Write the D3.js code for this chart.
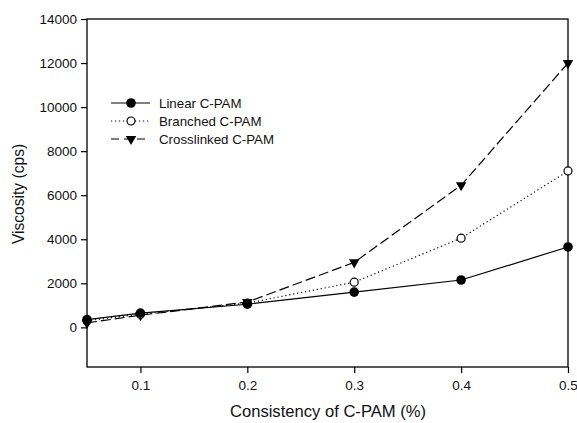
<!DOCTYPE html>
<html>
<head>
<meta charset="utf-8">
<script src="https://cdn.jsdelivr.net/npm/d3@7"></script>
<style>
  body { margin: 0; background: #fff; }
  svg { display: block; font-family: "Liberation Sans", Arial, sans-serif; }
</style>
</head>
<body>
<svg width="577" height="423"></svg>
<script>
// Data
const consistency = [0.05, 0.1, 0.2, 0.3, 0.4, 0.5];
const linearVals = [350, 650, 1050, 1600, 2150, 3650];
const branchedVals = [300, 600, 1100, 2050, 4050, 7100];
const crosslinkedVals = [200, 550, 1150, 2950, 6450, 12000];
const seriesNames = ["Linear C-PAM", "Branched C-PAM", "Crosslinked C-PAM"];
const xTicks = [0.1, 0.2, 0.3, 0.4, 0.5];
const yTicks = [0, 2000, 4000, 6000, 8000, 10000, 12000, 14000];

(function(){
    const margin = { top: 19, right: 9, bottom: 56, left: 87 },
        width = 577 - margin.left - margin.right,
        height = 423 - margin.top - margin.bottom;

    const svg = d3.select("svg")
        .append("g")
        .attr("transform", `translate(${margin.left},${margin.top})`);

    const x = d3.scaleLinear().domain([0.05, 0.5]).range([0, width]);
    const y = d3.scaleLinear().domain([-1800, 14000]).range([height, 0]);

    // frame
    svg.append("rect")
        .attr("width", width).attr("height", height)
        .attr("fill", "none").attr("stroke", "#000").attr("stroke-width", 1.3);

    // axes
    const xAxis = svg.append("g")
        .attr("transform", `translate(0,${height})`)
        .call(d3.axisBottom(x).tickValues(xTicks).tickFormat(d3.format(".1f")).tickSize(6).tickPadding(7));
    const yAxis = svg.append("g")
        .call(d3.axisLeft(y).tickValues(yTicks).tickFormat(d => d).tickSize(6).tickPadding(4));
    [xAxis, yAxis].forEach(a => {
        a.select(".domain").remove();
        a.selectAll("line").attr("stroke-width", 1.2);
        a.selectAll("text").attr("font-size", 13.5).attr("fill", "#111")
            .attr("font-family", "Liberation Sans, Arial, sans-serif");
    });

    const series = [
        { name: seriesNames[0], values: linearVals, dash: null, marker: "filled" },
        { name: seriesNames[1], values: branchedVals, dash: "1.2,2.8", marker: "open" },
        { name: seriesNames[2], values: crosslinkedVals, dash: "10,4", marker: "tri" }
    ];

    const line = d3.line()
        .x((d, i) => x(consistency[i]))
        .y(d => y(d));

    function drawMarker(g, type, cx, cy) {
        if (type === "filled") {
            g.append("circle").attr("cx", cx).attr("cy", cy).attr("r", 4.8).attr("fill", "#000");
        } else if (type === "open") {
            g.append("circle").attr("cx", cx).attr("cy", cy).attr("r", 4)
                .attr("fill", "#fff").attr("stroke", "#000").attr("stroke-width", 1.2);
        } else {
            g.append("path")
                .attr("d", d3.symbol().type(d3.symbolTriangle).size(48))
                .attr("transform", `translate(${cx},${cy}) rotate(180)`)
                .attr("fill", "#000");
        }
    }

    series.forEach(s => {
        svg.append("path")
            .datum(s.values)
            .attr("d", line)
            .attr("fill", "none")
            .attr("stroke", "#000")
            .attr("stroke-width", 1.2)
            .attr("stroke-dasharray", s.dash);
    });
    // markers drawn after lines, triangles first so circles sit on top
    [series[2], series[1], series[0]].forEach(s => {
        const g = svg.append("g");
        s.values.forEach((v, i) => drawMarker(g, s.marker, x(consistency[i]), y(v)));
    });

    // legend
    const legend = svg.append("g").attr("transform", "translate(24,84)");
    series.forEach((s, i) => {
        const row = legend.append("g").attr("transform", `translate(0,${i * 18})`);
        row.append("line")
            .attr("x1", 0).attr("x2", 39).attr("y1", 0).attr("y2", 0)
            .attr("stroke", "#000").attr("stroke-width", 1.2)
            .attr("stroke-dasharray", s.dash === "10,4" ? "8,5" : s.dash);
        drawMarker(row, s.marker, 20, 0);
        row.append("text")
            .attr("x", 48).attr("y", 0).attr("dy", "0.35em")
            .attr("font-size", 13.3).attr("fill", "#111")
            .text(s.name);
    });

    // axis titles
    svg.append("text")
        .attr("x", (232 + 424) / 2 - margin.left).attr("y", height + 50)
        .attr("text-anchor", "middle")
        .attr("font-size", 16.6).attr("fill", "#111")
        .text("Consistency of C-PAM (%)");
    svg.append("text")
        .attr("transform", `translate(${-63},${194 - margin.top}) rotate(-90)`)
        .attr("text-anchor", "middle")
        .attr("font-size", 15.6).attr("fill", "#111")
        .text("Viscosity (cps)");
})();
</script>
</body>
</html>
